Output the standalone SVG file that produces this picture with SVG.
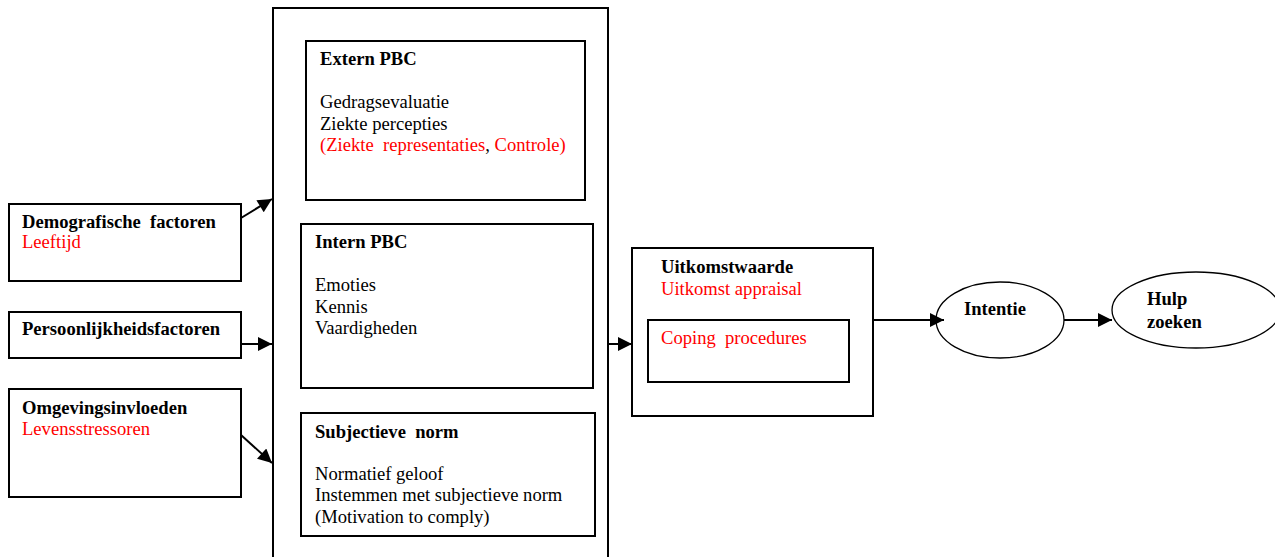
<svg xmlns="http://www.w3.org/2000/svg" width="1275" height="557" viewBox="0 0 1275 557" font-family="'Liberation Serif', 'Times New Roman', serif" font-size="18.6">
<style>
text{white-space:pre}
.b{font-weight:bold}
.r{fill:#ff0000}
.box{fill:#fff;stroke:#000;stroke-width:2}
.ell{fill:#fff;stroke:#000;stroke-width:1.3}
.con{stroke:#000;stroke-width:2;fill:none;marker-end:url(#ah)}
</style>
<defs>
<marker id="ah" viewBox="0 0 10 10" refX="10" refY="5" markerWidth="8" markerHeight="7" markerUnits="strokeWidth" orient="auto">
<path d="M0,0 L10,5 L0,10 z" fill="#000"/>
</marker>
</defs>
<rect width="1275" height="557" fill="#fff"/>
<g id="demografisch">
<rect class="box" x="9" y="204" width="232" height="77"/>
<text class="b" x="22" y="228">Demografische  factoren</text>
<text class="r" x="22" y="248">Leeftijd</text>
</g>
<g id="persoonlijkheid">
<rect class="box" x="9" y="312" width="232" height="46"/>
<text class="b" x="22" y="335">Persoonlijkheidsfactoren</text>
</g>
<g id="omgeving">
<rect class="box" x="9" y="389" width="232" height="108"/>
<text class="b" x="22" y="414">Omgevingsinvloeden</text>
<text class="r" x="22" y="435">Levensstressoren</text>
</g>
<g id="groot">
<rect class="box" x="273" y="8" width="335" height="560"/>
</g>
<g id="extern">
<rect class="box" x="306" y="41" width="279" height="159"/>
<text class="b" x="320" y="65">Extern PBC</text>
<text x="320" y="108">Gedragsevaluatie</text>
<text x="320" y="130">Ziekte percepties</text>
<text x="320" y="151"><tspan class="r">(Ziekte  representaties</tspan>, <tspan class="r">Controle)</tspan></text>
</g>
<g id="intern">
<rect class="box" x="301" y="224" width="292" height="164"/>
<text class="b" x="315" y="248">Intern PBC</text>
<text x="315" y="291">Emoties</text>
<text x="315" y="313">Kennis</text>
<text x="315" y="334">Vaardigheden</text>
</g>
<g id="subjectief">
<rect class="box" x="301" y="413" width="294" height="123"/>
<text class="b" x="315" y="438">Subjectieve  norm</text>
<text x="315" y="480">Normatief geloof</text>
<text x="315" y="501">Instemmen met subjectieve norm</text>
<text x="315" y="523">(Motivation to comply)</text>
</g>
<g id="uitkomst">
<rect class="box" x="632" y="248" width="241" height="168"/>
<text class="b" x="661" y="273">Uitkomstwaarde</text>
<text class="r" x="661" y="295">Uitkomst appraisal</text>
<rect class="box" x="648" y="320" width="201" height="62"/>
<text class="r" x="661" y="344">Coping  procedures</text>
</g>
<g id="intentie">
<ellipse class="ell" cx="1000" cy="320" rx="64" ry="38"/>
<text class="b" x="964" y="315">Intentie</text>
</g>
<g id="hulp">
<ellipse class="ell" cx="1196" cy="310" rx="84" ry="38"/>
<text class="b" x="1147" y="305">Hulp</text>
<text class="b" x="1147" y="328">zoeken</text>
</g>
<g id="connectors">
<line class="con" x1="241" y1="218" x2="272" y2="199"/>
<line class="con" x1="241" y1="344" x2="272" y2="344"/>
<line class="con" x1="241" y1="435" x2="272" y2="463"/>
<line class="con" x1="608" y1="344" x2="632" y2="344"/>
<line class="con" x1="873" y1="320" x2="944" y2="320"/>
<line class="con" x1="1064" y1="320" x2="1112" y2="320"/>
</g>
</svg>
